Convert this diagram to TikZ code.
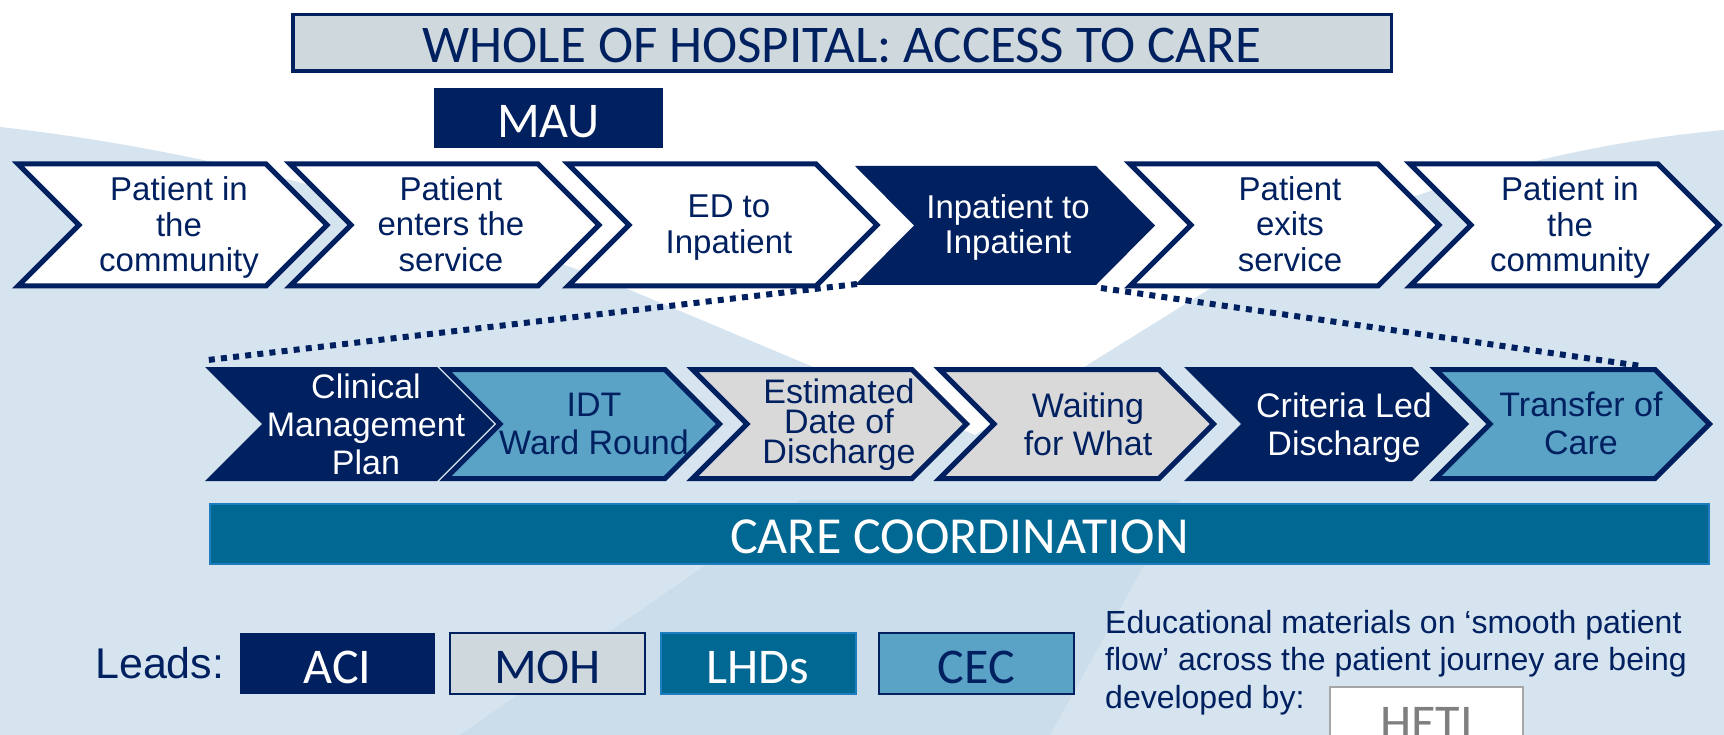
\documentclass[tikz,border=0pt]{standalone}
\usepackage{fontspec}
\setmainfont{Liberation Sans}
\newfontfamily\calib{Carlito}
\usetikzlibrary{calc}
\definecolor{navy}{RGB}{0,32,96}
\definecolor{palegb}{RGB}{207,216,220}
\definecolor{cteal}{RGB}{0,104,146}
\definecolor{ctealedge}{RGB}{30,125,190}
\definecolor{cblue}{RGB}{91,163,198}
\definecolor{cgrey}{RGB}{217,217,217}
\definecolor{bgblue}{RGB}{214,228,239}
\definecolor{bgdark}{RGB}{203,221,234}
\definecolor{hetigrey}{RGB}{127,127,127}
\definecolor{hetiedge}{RGB}{166,166,166}

\newcommand\chevshape[7]{%
  \pgfmathsetmacro\chevmid{(#4+#5)/2}%
  \path[#1] (#3,#4) coordinate (#2-tl) -- ({#3+#6},#4) coordinate (#2-tr)
    -- ({#3+#6+#7},\chevmid) coordinate (#2-tip) -- ({#3+#6},#5) coordinate (#2-br)
    -- (#3,#5) coordinate (#2-bl) -- ({#3+#7},\chevmid) coordinate (#2-notch) -- cycle;}

\tikzset{
  whitechev/.style={fill=white, draw=navy, line width=5pt, line join=miter},
  navychev/.style={fill=navy},
  bluechev/.style={fill=cblue, draw=navy, line width=5pt, line join=miter},
  greychev/.style={fill=cgrey, draw=navy, line width=5pt, line join=miter},
  toptxt/.style={align=center, inner sep=0pt, font=\fontsize{33}{35.5}\selectfont, text=navy},
  lowtxt/.style={align=center, inner sep=0pt, font=\fontsize{34}{38}\selectfont, text=navy},
  dotline/.style={draw=navy, line width=6pt, dash pattern=on 6pt off 6.2pt},
  calibbox/.style={inner sep=0pt, font=\calib\fontsize{50}{50}\selectfont, text depth=0pt},
  leadbox/.style={calibbox, minimum width=195pt, minimum height=61pt, text height=39pt},
}

\begin{document}
\begin{tikzpicture}[x=1pt,y=-1pt]
\useasboundingbox (0,0) rectangle (1724,735);
\clip (0,0) rectangle (1724,735);
% background
\fill[white] (0,0) rectangle (1724,735);
\fill[bgblue] (0,127) .. controls (250,155) and (480,230) .. (630,290) -- (975,435)
  -- (1240,270) .. controls (1400,190) and (1560,145) .. (1724,130) -- (1724,735) -- (0,735) -- cycle;
\fill[bgdark] (800,500) -- (1180,500) -- (1050,735) -- (460,735) -- cycle;

% title and MAU
\node[draw=navy, line width=3.5pt, fill=palegb, minimum width=1098.5pt, minimum height=56.5pt,
  inner sep=0pt, font=\calib\fontsize{53}{53}\selectfont, text=navy, text height=40pt, text depth=0pt]
  (title) at (842,43) {WHOLE OF HOSPITAL: ACCESS TO CARE};
\node[fill=navy, minimum width=229pt, minimum height=60pt, calibbox, text=white, text height=40pt]
  (mau) at (548.5,118) {MAU};

% top chevrons
\chevshape{whitechev}{t1}{18}{164}{286}{248}{61}
\chevshape{whitechev}{t2}{290}{164}{286}{248}{61}
\chevshape{whitechev}{t3}{568}{164}{286}{248}{61}
\chevshape{navychev}{t4}{855}{166}{285}{241}{59}
\chevshape{whitechev}{t5}{1130}{164}{286}{248}{61}
\chevshape{whitechev}{t6}{1410}{164}{286}{248}{61}

\node[toptxt] (t1txt) at (179,227.5) {Patient in\\the\\community};
\node[toptxt] (t2txt) at (451,224) {Patient\\enters the\\service};
\node[toptxt] (t3txt) at (729,227.5) {ED to\\Inpatient};
\node[toptxt, text=white] (t4txt) at (1008,227.5) {Inpatient to\\Inpatient};
\node[toptxt] (t5txt) at (1290,224) {Patient\\exits\\service};
\node[toptxt] (t6txt) at (1570,227.5) {Patient in\\the\\community};

% lower chevrons
\chevshape{navychev}{b1}{205}{367}{481}{232}{57}
\chevshape{bluechev}{b2}{445.5}{369.5}{478.5}{219.5}{54.5}
\chevshape{greychev}{b3}{692.5}{369.5}{478.5}{219.5}{54.5}
\chevshape{greychev}{b4}{939.5}{369.5}{478.5}{219.5}{54.5}
\chevshape{navychev}{b5}{1184}{367}{481}{228}{57}
\chevshape{bluechev}{b6}{1435.5}{369.5}{478.5}{219.5}{54.5}

\node[lowtxt, text=white] (b1txt) at (366,424) {Clinical\\Management\\Plan};
\node[lowtxt] (b2txt) at (594,424) {IDT\\Ward Round};
\node[lowtxt, font=\fontsize{34}{30}\selectfont] (b3txt) at (839,425) {Estimated\\Date of\\Discharge};
\node[lowtxt] (b4txt) at (1088,424) {Waiting\\for What};
\node[lowtxt, text=white] (b5txt) at (1344,427.5) {Criteria Led\\Discharge};
\node[lowtxt] (b6txt) at (1581,423) {Transfer of\\Care};

% dotted connectors
\draw[dotline] ($(t4-bl)+(2,-1)$) -- ($(b1-tl)+(3,-7)$);
\draw[dotline] ($(t4-br)+(5,3)$) -- ($(b6-tr)+(-14,-3.5)$);

% care coordination
\node[fill=cteal, draw=ctealedge, line width=2pt, minimum width=1499pt, minimum height=60pt,
  calibbox, font=\calib\fontsize{52}{52}\selectfont, text=white, text height=38pt]
  (care) at (959.5,534) {CARE COORDINATION};

% leads
\node[anchor=base west, inner sep=0pt, font=\fontsize{43}{43}\selectfont, text=navy] (leads) at (95,678) {Leads:};
\node[leadbox, fill=navy, text=white] (aci) at (337.5,663.5) {ACI};
\node[leadbox, fill=palegb, draw=navy, line width=2pt, text=navy] (moh) at (547.5,663.5) {MOH};
\node[leadbox, fill=cteal, draw=ctealedge, line width=2pt, text=white] (lhd) at (758,663.5) {LHDs};
\node[leadbox, fill=cblue, draw=navy, line width=2pt, text=navy] (cec) at (976.5,663.5) {CEC};

% educational note
\node[anchor=north west, align=left, inner sep=0pt, font=\fontsize{32}{37.5}\selectfont, text=navy]
  (edu) at (1105,609.7) {Educational materials on ‘smooth patient\\flow’ across the patient journey are being\\developed by:};
\node[calibbox, draw=hetiedge, line width=2pt, fill=white, minimum width=193pt, minimum height=78pt,
  text=hetigrey, text height=26pt] (heti) at (1426.5,726) {HETI};
\end{tikzpicture}
\end{document}
